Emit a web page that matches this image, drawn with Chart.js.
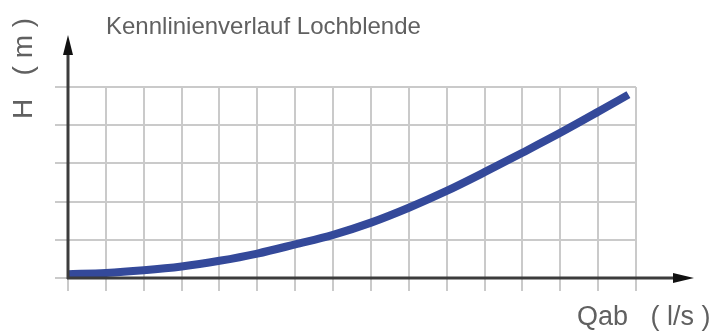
<!DOCTYPE html>
<html>
<head>
<meta charset="utf-8">
<script src="https://cdn.jsdelivr.net/npm/chart.js@4.4.1/dist/chart.umd.min.js"></script>
<style>
  html, body { margin: 0; padding: 0; background: #fff; }
  #chart { display: block; }
</style>
</head>
<body>
<canvas id="chart" width="723" height="333"></canvas>
<script>
// flow Q (grid units) and head H (grid units)
const qValues = [0, 1, 2, 3, 4, 5, 6, 7, 8, 9, 10, 11, 12, 13, 14, 14.8];
const hValues = [0.1, 0.13, 0.2, 0.3, 0.45, 0.64, 0.88, 1.13, 1.45, 1.84, 2.28, 2.77, 3.28, 3.8, 4.35, 4.8];

const titleText = 'Kennlinienverlauf Lochblende';
const yLabel = 'H   ( m )';
const xLabel = 'Qab   ( l/s )';

const points = qValues.map((q, i) => ({ x: q, y: hValues[i] }));

// axes with arrow heads + the free-standing texts
const decorations = {
  id: 'decorations',
  afterDraw(chart) {
    const { ctx } = chart;
    const x0 = chart.scales.x.getPixelForValue(0);
    const y0 = chart.scales.y.getPixelForValue(0);
    ctx.save();
    ctx.strokeStyle = '#3c3c3c';
    ctx.fillStyle = '#111';
    ctx.lineWidth = 3;

    // y axis
    ctx.beginPath();
    ctx.moveTo(x0, y0 + 1);
    ctx.lineTo(x0, 50);
    ctx.stroke();
    ctx.beginPath();
    ctx.moveTo(x0, 35);
    ctx.lineTo(x0 - 5, 55);
    ctx.lineTo(x0 + 5, 55);
    ctx.closePath();
    ctx.fill();

    // x axis
    ctx.beginPath();
    ctx.moveTo(x0 - 1, y0);
    ctx.lineTo(678, y0);
    ctx.stroke();
    ctx.beginPath();
    ctx.moveTo(694, y0);
    ctx.lineTo(673, y0 - 5);
    ctx.lineTo(673, y0 + 5);
    ctx.closePath();
    ctx.fill();

    // texts
    ctx.fillStyle = '#606060';
    ctx.textBaseline = 'alphabetic';
    ctx.textAlign = 'left';
    ctx.font = '24px "Liberation Sans", Arial, sans-serif';
    ctx.fillText(titleText, 106, 34);
    ctx.font = '27px "Liberation Sans", Arial, sans-serif';
    ctx.fillText(xLabel, 577, 325);

    ctx.font = '28px "Liberation Sans", Arial, sans-serif';
    ctx.translate(32, 119);
    ctx.rotate(-Math.PI / 2);
    ctx.fillText(yLabel, 0, 0);
    ctx.restore();
  }
};

new Chart(document.getElementById('chart'), {
  type: 'line',
  data: {
    datasets: [{
      data: points,
      borderColor: '#34499a',
      borderWidth: 8,
      pointRadius: 0,
      tension: 0.4,
      cubicInterpolationMode: 'monotone',
      fill: false,
      clip: 10
    }]
  },
  options: {
    responsive: false,
    devicePixelRatio: 1,
    animation: false,
    layout: { padding: { left: 68, top: 87, right: 87, bottom: 55 } },
    plugins: {
      legend: { display: false },
      title: { display: false },
      tooltip: { enabled: false }
    },
    scales: {
      x: {
        type: 'linear',
        min: 0,
        max: 15,
        ticks: { display: false, stepSize: 1 },
        grid: { color: '#cacaca', lineWidth: 2, tickLength: 13, drawTicks: true },
        border: { display: false },
        afterFit(scale) { scale.height = 0; }
      },
      y: {
        min: 0,
        max: 5,
        ticks: { display: false, stepSize: 1 },
        grid: { color: '#cacaca', lineWidth: 2, tickLength: 13, drawTicks: true },
        border: { display: false },
        afterFit(scale) { scale.width = 0; }
      }
    }
  },
  plugins: [decorations]
});
</script>
</body>
</html>
